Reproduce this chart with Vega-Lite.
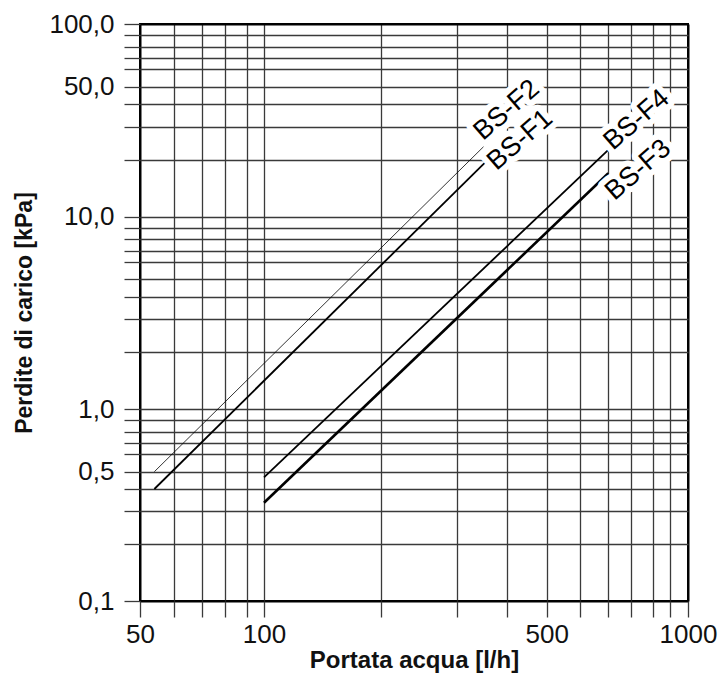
{
  "$schema": "https://vega.github.io/schema/vega-lite/v6.json",
  "width": 548,
  "height": 577,
  "autosize": {"type": "none"},
  "padding": {"left": 140, "top": 24, "right": 37, "bottom": 74},
  "background": "white",
  "config": {
    "font": "Liberation Sans",
    "view": {"stroke": "black", "strokeWidth": 2}
  },
  "datasets": {
    "curves": [
      {"series": "BS-F2", "q": 54, "dp": 0.5},
      {"series": "BS-F2", "q": 350, "dp": 23.5},
      {"series": "BS-F1", "q": 54, "dp": 0.4},
      {"series": "BS-F1", "q": 355, "dp": 19.6},
      {"series": "BS-F4", "q": 100, "dp": 0.465},
      {"series": "BS-F4", "q": 700, "dp": 22.6},
      {"series": "BS-F3", "q": 100, "dp": 0.334},
      {"series": "BS-F3", "q": 700, "dp": 17.0}
    ],
    "labels": [
      {"series": "BS-F2", "q": 400, "dp": 37},
      {"series": "BS-F1", "q": 431, "dp": 25.5},
      {"series": "BS-F4", "q": 825, "dp": 32.7},
      {"series": "BS-F3", "q": 832, "dp": 17.7}
    ]
  },
  "layer": [
    {
      "data": {"name": "curves"},
      "mark": {"type": "line", "color": "black", "strokeCap": "butt"},
      "encoding": {
        "x": {
          "field": "q",
          "type": "quantitative",
          "scale": {
            "type": "log",
            "nice": false,
            "domain": [50, 60, 70, 80, 90, 100, 200, 300, 400, 500, 600, 700, 800, 900, 950, 1000],
            "range": [0, 34, 62.3, 85, 107, 124, 240.7, 316.7, 366.7, 406.7, 440, 468.3, 490.7, 513.3, 530, 548]
          },
          "axis": {
            "values": [50, 60, 70, 80, 90, 100, 200, 300, 400, 500, 600, 700, 800, 900, 950, 1000],
            "labelExpr": "(datum.value==50||datum.value==100||datum.value==500||datum.value==1000) ? ('' + datum.value) : ''",
            "grid": true,
            "gridColor": {"condition": {"test": "datum.value==50||datum.value==1000", "value": "black"}, "value": "#3a3a3a"},
            "gridWidth": {"condition": {"test": "datum.value==50||datum.value==1000", "value": 2}, "value": 1.3},
            "tickSize": 16,
            "tickColor": "#3a3a3a",
            "tickWidth": 1.3,
            "domain": false,
            "labelFontSize": 26,
            "labelColor": "#111",
            "labelPadding": 4,
            "labelOverlap": false,
            "labelBound": false,
            "labelFlush": false,
            "title": "Portata acqua [l/h]",
            "titleFontSize": 24,
            "titleFontWeight": "bold",
            "titleColor": "#111",
            "titlePadding": 1
          }
        },
        "y": {
          "field": "dp",
          "type": "quantitative",
          "scale": {
            "type": "log",
            "nice": false,
            "domain": [0.1, 0.2, 0.3, 0.4, 0.5, 0.6, 0.7, 0.8, 0.9, 1, 2, 3, 4, 5, 6, 7, 8, 9, 10, 20, 30, 40, 50, 60, 70, 80, 90, 100],
            "range": [577, 520.3, 487, 465, 447.7, 430, 418.7, 407.7, 396, 385, 328.3, 294.7, 272.7, 255.3, 238, 226.7, 215.3, 204, 192.7, 136, 102.7, 80, 62.7, 45.3, 34.3, 22.7, 11, 0]
          },
          "axis": {
            "values": [0.1, 0.2, 0.3, 0.4, 0.5, 0.6, 0.7, 0.8, 0.9, 1, 2, 3, 4, 5, 6, 7, 8, 9, 10, 20, 30, 40, 50, 60, 70, 80, 90, 100],
            "labelExpr": "datum.value==100?'100,0':datum.value==50?'50,0':datum.value==10?'10,0':datum.value==1?'1,0':datum.value==0.5?'0,5':datum.value==0.1?'0,1':''",
            "grid": true,
            "gridColor": {"condition": {"test": "datum.value==0.1||datum.value==100", "value": "black"}, "value": "#3a3a3a"},
            "gridWidth": {"condition": {"test": "datum.value==0.1||datum.value==100", "value": 2}, "value": 1.3},
            "tickSize": 16,
            "tickColor": "#3a3a3a",
            "tickWidth": 1.3,
            "domain": false,
            "labelFontSize": 26,
            "labelColor": "#111",
            "labelPadding": 10,
            "labelOverlap": false,
            "labelBound": false,
            "labelFlush": false,
            "title": "Perdite di carico [kPa]",
            "titleFontSize": 23,
            "titleFontWeight": "bold",
            "titleColor": "#111",
            "titlePadding": 12
          }
        },
        "detail": {"field": "series"},
        "strokeWidth": {
          "field": "series",
          "type": "nominal",
          "scale": {"type": "ordinal", "domain": ["BS-F1", "BS-F2", "BS-F3", "BS-F4"], "range": [1.8, 0.8, 2.6, 1.8]},
          "legend": null
        }
      }
    },
    {
      "data": {"name": "labels"},
      "mark": {"type": "text", "angle": 319, "fontSize": 27, "fill": "white", "stroke": "white", "strokeWidth": 12, "strokeJoin": "round", "align": "center", "baseline": "middle"},
      "encoding": {
        "x": {"field": "q", "type": "quantitative"},
        "y": {"field": "dp", "type": "quantitative"},
        "text": {"field": "series"}
      }
    },
    {
      "data": {"name": "labels"},
      "mark": {"type": "text", "angle": 319, "fontSize": 27, "fill": "black", "align": "center", "baseline": "middle"},
      "encoding": {
        "x": {"field": "q", "type": "quantitative"},
        "y": {"field": "dp", "type": "quantitative"},
        "text": {"field": "series"}
      }
    }
  ]
}
